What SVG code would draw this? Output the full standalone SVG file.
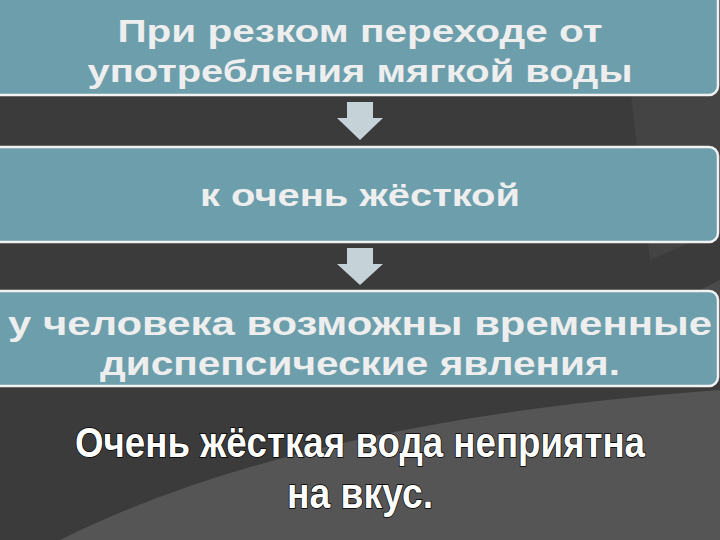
<svg xmlns="http://www.w3.org/2000/svg" width="720" height="540" viewBox="0 0 720 540">
<style>
.box{fill:#6c9eab;stroke:#f2f2f2;stroke-width:2.5}
.t{font-family:"Liberation Sans",Arial,sans-serif;font-weight:bold;fill:#eeeeee;text-anchor:middle}
.arr{fill:#c5d3d8}
.b{font-family:"Liberation Sans",Arial,sans-serif;font-weight:bold;fill:#fff;stroke:#000;stroke-width:1.5;paint-order:stroke;text-anchor:middle}
</style>
<rect width="720" height="540" fill="#3b3b3b"/>
<path d="M60 540 Q300 420 720 390 L720 540 Z" fill="#555"/>
<path d="M620 0 L720 0 L720 230 L650 260 Z" fill="#444"/>
<path d="M680 300 L720 280 L720 380 Z" fill="#4a4a4a"/>
<g id="connectors">
<path class="arr" d="M347 102 H373 V118 H383 L360 140 L337 118 H347 Z"/>
<path class="arr" d="M347 248 H373 V264 H383 L360 285 L337 264 H347 Z"/>
</g>
<g id="n1"><rect class="box" x="-8" y="-10" width="726" height="105" rx="9"/>
<text class="t" x="360" y="42" font-size="32" textLength="485" lengthAdjust="spacingAndGlyphs">При резком переходе от</text>
<text class="t" x="360" y="82" font-size="32" textLength="545" lengthAdjust="spacingAndGlyphs">употребления мягкой воды</text></g>
<g id="n2"><rect class="box" x="-8" y="147" width="726" height="95" rx="9"/>
<text class="t" x="360" y="206" font-size="32" textLength="320" lengthAdjust="spacingAndGlyphs">к очень жёсткой</text></g>
<g id="n3"><rect class="box" x="-8" y="291" width="726" height="95" rx="9"/>
<text class="t" x="360" y="335" font-size="33" textLength="704" lengthAdjust="spacingAndGlyphs">у человека возможны временные</text>
<text class="t" x="360" y="375" font-size="33" textLength="520" lengthAdjust="spacingAndGlyphs">диспепсические явления.</text></g>
<g id="n4">
<text class="b" x="360" y="457" font-size="42" textLength="570" lengthAdjust="spacingAndGlyphs">Очень жёсткая вода неприятна</text>
<text class="b" x="360" y="508" font-size="42" textLength="146" lengthAdjust="spacingAndGlyphs">на вкус.</text></g>
</svg>
